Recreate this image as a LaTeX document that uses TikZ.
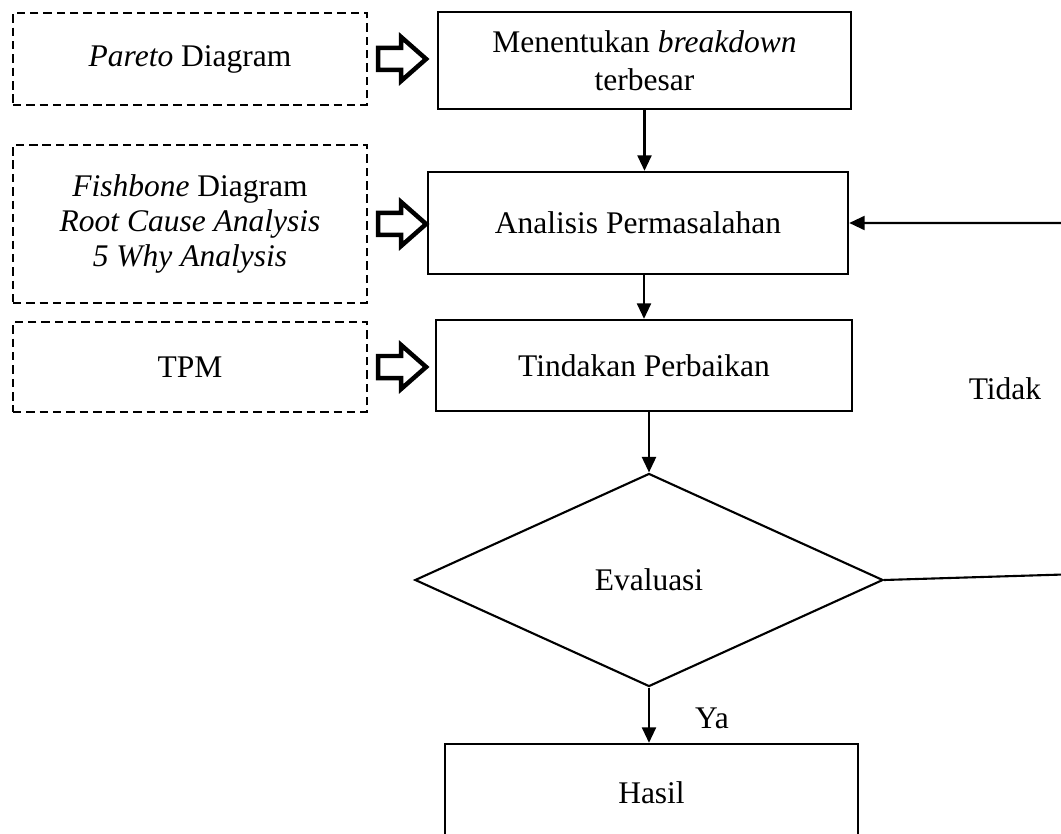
\documentclass[tikz,border=0pt]{standalone}
\usepackage{fontspec}
\setmainfont{Liberation Serif}
\usetikzlibrary{shapes.geometric,arrows.meta,calc}

\begin{document}
\begin{tikzpicture}
      [x=0.025cm,y=-0.025cm
      ,tulis/.style={font=\fontsize{22.4}{25}\selectfont,align=center,inner sep=0pt}
      ,kotak/.style={tulis,draw,line width=1.7pt}
      ,putus/.style={tulis,draw,line width=1.5pt,dash pattern=on 6pt off 3.5pt,minimum width=8.85cm}
      ,belah/.style={tulis,draw,diamond,line width=1.5pt,minimum width=11.7cm,minimum height=5.325cm}
      ,panah/.style={line width=1.5pt,-{Triangle[length=11pt,width=10pt]}}
      ,rongga/.style={line width=3.2pt,line join=miter,fill=white}
      ]
        \clip (0,0) rectangle (1061,834);
        % alat bantu (kiri)
        \node[putus,minimum height=2.3cm] (pareto) at (190,59) {\textit{Pareto} Diagram};
        \node[putus,minimum height=3.95cm] (fishbone) at (190,224)
          {\textit{Fishbone} Diagram\\ \textit{Root Cause Analysis}\\ \textit{5 Why Analysis}};
        \node[putus,minimum height=2.25cm] (tpm) at (190,367) {TPM};
        % langkah utama
        \node[kotak,minimum width=10.325cm,minimum height=2.425cm] (tentukan) at (644.5,60.5)
          {Menentukan \textit{breakdown}\\[2pt] terbesar};
        \node[kotak,minimum width=10.5cm,minimum height=2.55cm] (analisis) at (638,223) {Analisis Permasalahan};
        \node[kotak,minimum width=10.4cm,minimum height=2.275cm] (tindakan) at (644,365.5) {Tindakan Perbaikan};
        \node[belah] (evaluasi) at (649,580) {Evaluasi};
        \node[kotak,minimum width=10.325cm,minimum height=2.45cm] (hasil) at (651.5,793) {Hasil};
        % panah rongga
        \foreach \n in {pareto,fishbone,tpm}{
          \draw[rongga] ($(\n.east)+(10,0)$) ++(0,-11) -- ++(23,0) -- ++(0,-11) -- ++(25,22)
            -- ++(-25,22) -- ++(0,-11) -- ++(-23,0) -- cycle;
        }
        % alur
        \draw[panah] (tentukan.south) -- (tentukan.south |- analisis.north);
        \draw[panah] (tindakan.north |- analisis.south) -- (tindakan.north);
        \draw[panah] (evaluasi.north |- tindakan.south) -- (evaluasi.north);
        \draw[panah] (evaluasi.south) -- (evaluasi.south |- hasil.north);
        \coordinate (balik) at (1080,574);
        \draw[panah] (evaluasi.east) -- (balik) |- (analisis.east);
        \node[tulis] (tidak) at (1005,389) {Tidak};
        \node[tulis] (ya) at (712,718) {Ya};

      \end{tikzpicture}
\end{document}
